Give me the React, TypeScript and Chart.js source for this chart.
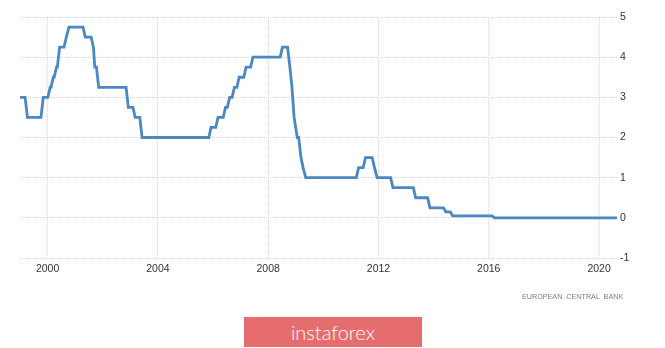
import React, { useEffect, useRef } from 'react';
import { Chart, registerables } from 'chart.js';

Chart.register(...registerables);

// ECB main refinancing rate: dates of change and the new rate (%)
const changeDates = [
  '1999-01-01', '1999-04-09', '1999-11-05', '2000-02-04', '2000-03-17', '2000-04-28',
  '2000-06-09', '2000-09-06', '2000-10-11', '2001-05-15', '2001-08-31', '2001-09-18',
  '2001-11-09', '2002-12-06', '2003-03-07', '2003-06-06', '2005-12-06', '2006-03-08',
  '2006-06-15', '2006-08-09', '2006-10-11', '2006-12-13', '2007-03-14', '2007-06-13',
  '2008-07-09', '2008-10-15', '2008-11-12', '2008-12-10', '2009-01-21', '2009-03-11',
  '2009-04-08', '2009-05-13', '2011-04-13', '2011-07-13', '2011-11-09', '2011-12-14',
  '2012-07-11', '2013-05-08', '2013-11-13', '2014-06-11', '2014-09-10', '2016-03-16',
];
const rates = [
  3.0, 2.5, 3.0, 3.25, 3.5, 3.75,
  4.25, 4.5, 4.75, 4.5, 4.25, 3.75,
  3.25, 2.75, 2.5, 2.0, 2.25, 2.5,
  2.75, 3.0, 3.25, 3.5, 3.75, 4.0,
  4.25, 3.75, 3.25, 2.5, 2.0, 1.5,
  1.25, 1.0, 1.25, 1.5, 1.25, 1.0,
  0.75, 0.5, 0.25, 0.15, 0.05, 0.0,
];
const xMin = 1999;
const xMax = 2020.65;
const yearTicks = [2000, 2004, 2008, 2012, 2016, 2020];
const yMin = -1;
const yMax = 5;
const sourceLabel = 'EUROPEAN CENTRAL BANK';
const brandLabel = 'instaforex';

function toYear(s: string): number {
  const [y, m, d] = s.split('-').map(Number);
  const start = Date.UTC(y, 0, 1);
  const end = Date.UTC(y + 1, 0, 1);
  return y + (Date.UTC(y, m - 1, d) - start) / (end - start);
}

function buildPoints() {
  const pts: { x: number; y: number }[] = [];
  changeDates.forEach((ds, i) => {
    const t = Math.max(toYear(ds), xMin);
    if (i > 0) {
      const pre = t - 1 / 12;
      const last = pts[pts.length - 1];
      if (pre > last.x) pts.push({ x: pre, y: rates[i - 1] });
    }
    pts.push({ x: t, y: rates[i] });
  });
  pts.push({ x: xMax, y: rates[rates.length - 1] });
  return pts;
}

export default function App() {
  const ref = useRef<HTMLCanvasElement>(null);

  useEffect(() => {
    if (!ref.current) return;
    const tickFont = { family: '"Liberation Sans", Arial, sans-serif', size: 10.5 };
    const chart = new Chart(ref.current, {
      type: 'line',
      data: {
        datasets: [
          {
            data: buildPoints(),
            borderColor: '#4b87c3',
            borderWidth: 2.8,
            pointRadius: 0,
            tension: 0,
            fill: false,
          },
        ],
      },
      options: {
        animation: false,
        responsive: false,
        maintainAspectRatio: false,
        layout: { padding: { left: 20, top: 17, right: 0, bottom: 0 } },
        plugins: { legend: { display: false }, tooltip: { enabled: false } },
        scales: {
          x: {
            type: 'linear',
            min: xMin,
            max: xMax,
            afterBuildTicks: (s: any) => {
              s.ticks = yearTicks.map((v) => ({ value: v }));
            },
            afterFit: (s: any) => {
              s.height = 90;
            },
            grid: { color: '#d8d8d8', lineWidth: 1, drawTicks: false },
            border: { display: false, dash: [1, 1] },
            ticks: {
              color: '#333',
              font: tickFont,
              padding: 5,
              maxRotation: 0,
              callback: (v: any) => String(v),
            },
          },
          y: {
            position: 'right',
            min: yMin,
            max: yMax,
            afterFit: (s: any) => {
              s.width = 48;
            },
            grid: { color: '#d8d8d8', lineWidth: 1, drawTicks: false },
            border: { display: false, dash: [1, 1] },
            ticks: {
              stepSize: 1,
              color: '#333',
              font: tickFont,
              padding: 3,
              callback: (v: any) => String(v),
            },
          },
        },
      },
    });
    return () => chart.destroy();
  }, []);

  return (
    <div
      style={{
        position: 'absolute',
        left: 0,
        top: 0,
        width: 665,
        height: 348,
        background: '#fff',
        overflow: 'hidden',
      }}
    >
      <canvas ref={ref} width={665} height={348} style={{ display: 'block', width: 665, height: 348 }} />
      <div
        style={{
          position: 'absolute',
          left: 522,
          top: 292,
          fontFamily: '"Liberation Sans", Arial, sans-serif',
          fontSize: 7.2,
          letterSpacing: 0,
          wordSpacing: 2,
          color: '#808080',
          whiteSpace: 'nowrap',
          lineHeight: '10px',
        }}
      >
        {sourceLabel}
      </div>
      <div
        style={{
          position: 'absolute',
          left: 244,
          top: 317,
          width: 178,
          height: 30,
          background: '#e66d6d',
          color: '#fff',
          fontFamily: 'Lato, "Open Sans", sans-serif',
          fontWeight: 300,
          fontSize: 20,
          lineHeight: '30px',
          textAlign: 'center',
        }}
      >
        {brandLabel}
      </div>
    </div>
  );
}
